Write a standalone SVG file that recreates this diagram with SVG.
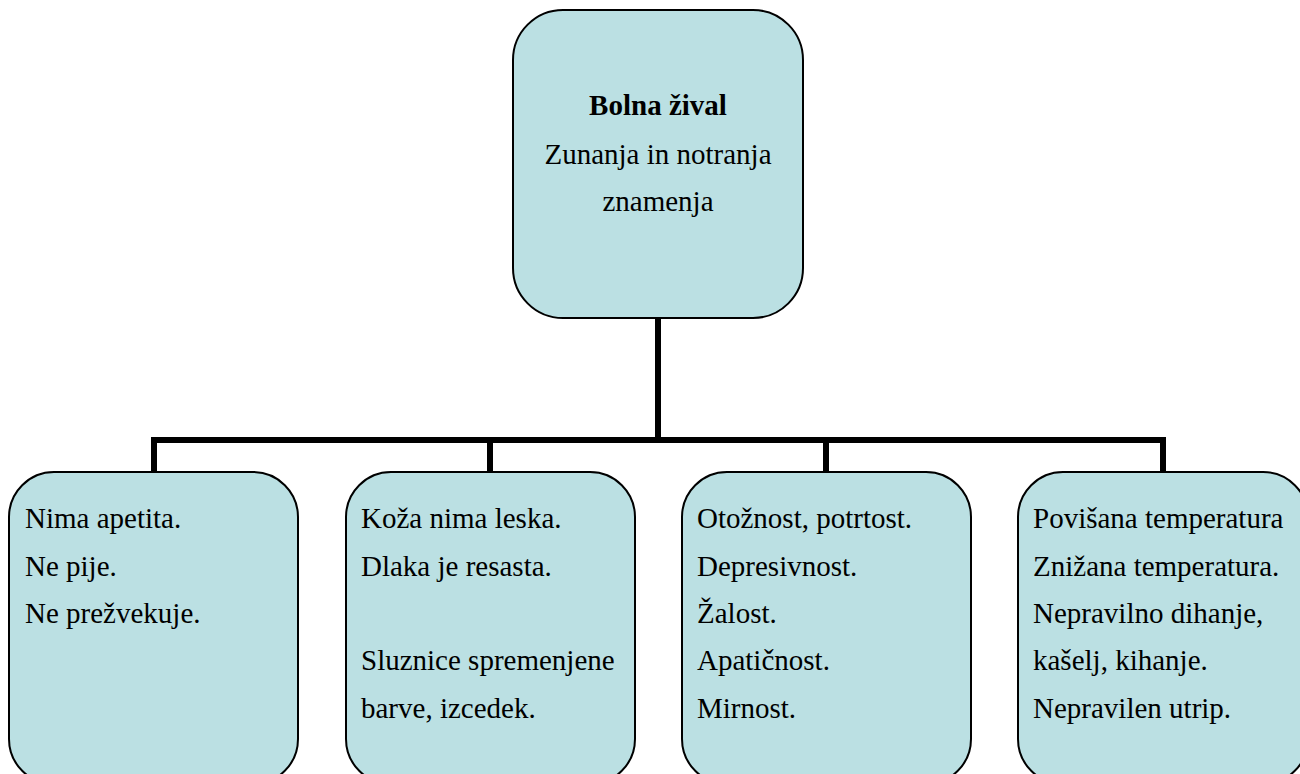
<svg xmlns="http://www.w3.org/2000/svg" width="1300" height="774" viewBox="0 0 1300 774">
<style>
.box{fill:#bbe0e3;stroke:#000;stroke-width:2}
.c{stroke:#000;stroke-width:6;fill:none;stroke-linecap:square}
</style>
<rect width="1300" height="774" fill="#fff"/>
<g id="connectors">
<path class="c" d="M658 318 V440 M154 440 H1163 M154 440 V471 M490 440 V471 M826 440 V471 M1163 440 V471"/>
</g>
<g font-family="Liberation Serif" font-size="29" fill="#000">
<g id="root">
<rect class="box" x="513" y="10" width="290" height="308" rx="50"/>
<text x="658" y="115" text-anchor="middle" font-weight="bold" font-family="Liberation Serif">Bolna žival</text>
<text x="658" y="164" text-anchor="middle" font-family="Liberation Serif">Zunanja in notranja</text>
<text x="658" y="211" text-anchor="middle" font-family="Liberation Serif">znamenja</text>
</g>
<g id="n1">
<rect class="box" x="9" y="472" width="289" height="312" rx="45"/>
<text x="25" y="528" font-family="Liberation Serif">Nima apetita.</text>
<text x="25" y="576" font-family="Liberation Serif">Ne pije.</text>
<text x="25" y="623" font-family="Liberation Serif">Ne prežvekuje.</text>
</g>
<g id="n2">
<rect class="box" x="346" y="472" width="289" height="312" rx="45"/>
<text x="361" y="528" font-family="Liberation Serif">Koža nima leska.</text>
<text x="361" y="576" font-family="Liberation Serif">Dlaka je resasta.</text>
<text x="361" y="670" font-family="Liberation Serif">Sluznice spremenjene</text>
<text x="361" y="718" font-family="Liberation Serif">barve, izcedek.</text>
</g>
<g id="n3">
<rect class="box" x="682" y="472" width="289" height="312" rx="45"/>
<text x="697" y="528" font-family="Liberation Serif">Otožnost, potrtost.</text>
<text x="697" y="576" font-family="Liberation Serif">Depresivnost.</text>
<text x="697" y="623" font-family="Liberation Serif">Žalost.</text>
<text x="697" y="670" font-family="Liberation Serif">Apatičnost.</text>
<text x="697" y="718" font-family="Liberation Serif">Mirnost.</text>
</g>
<g id="n4">
<rect class="box" x="1018" y="472" width="290" height="312" rx="45"/>
<text x="1033" y="528" font-family="Liberation Serif">Povišana temperatura</text>
<text x="1033" y="576" font-family="Liberation Serif">Znižana temperatura.</text>
<text x="1033" y="623" font-family="Liberation Serif">Nepravilno dihanje,</text>
<text x="1033" y="670" font-family="Liberation Serif">kašelj, kihanje.</text>
<text x="1033" y="718" font-family="Liberation Serif">Nepravilen utrip.</text>
</g>
</g>
</svg>
